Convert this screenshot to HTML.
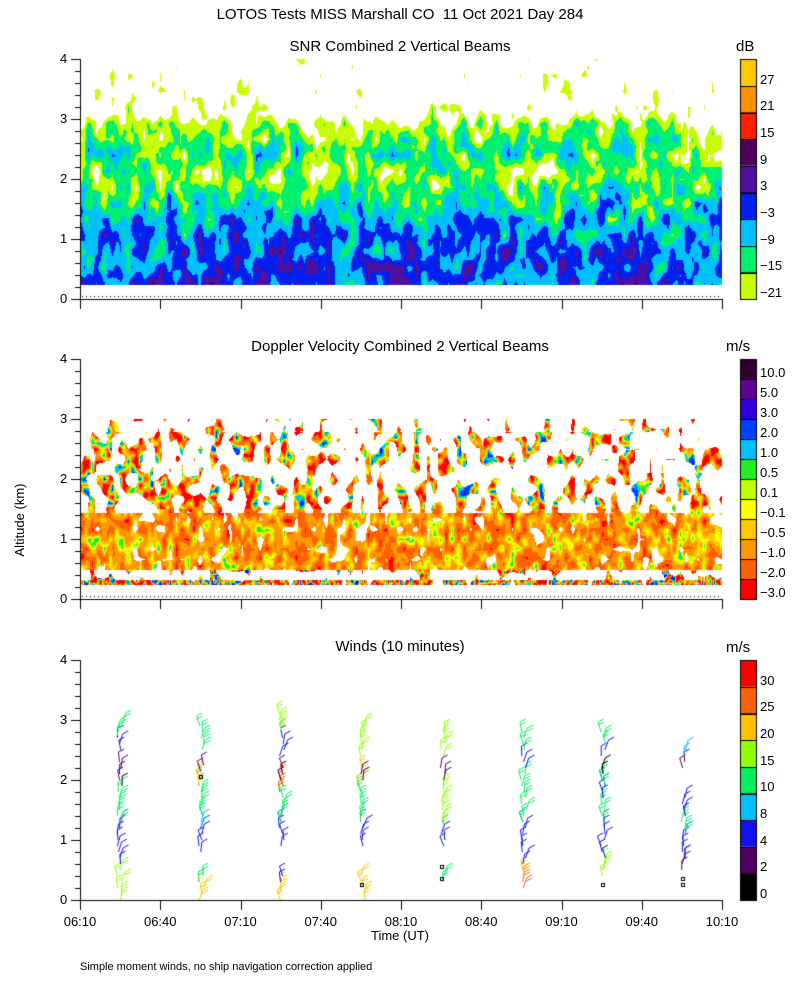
<!DOCTYPE html>
<html><head><meta charset="utf-8">
<style>
body{margin:0;background:#fff;}
#w{position:relative;width:800px;height:1000px;overflow:hidden;font-family:"Liberation Sans",sans-serif;color:#000;}
.t{position:absolute;white-space:nowrap;font-size:14px;line-height:14px;}
.c{transform:translateX(-50%);}
</style></head><body>
<div id="w">
<canvas id="cv" width="800" height="1000" style="position:absolute;left:0;top:0"></canvas>
<div class="t c" style="left:400px;top:8px;font-size:15px">LOTOS Tests MISS Marshall CO&nbsp; 11 Oct 2021 Day 284</div>
<div class="t c" style="left:400px;top:40px;font-size:15px">SNR Combined 2 Vertical Beams</div>
<div class="t c" style="left:400px;top:340px;font-size:15px">Doppler Velocity Combined 2 Vertical Beams</div>
<div class="t c" style="left:400px;top:640px;font-size:15px">Winds (10 minutes)</div>
<div class="t" style="left:736px;top:40px;font-size:15px">dB</div>
<div class="t" style="left:726px;top:340px;font-size:15px">m/s</div>
<div class="t" style="left:726px;top:641px;font-size:15px">m/s</div>
<div class="t" style="top:520px;font-size:13px;transform:translate(-50%,-50%) rotate(-90deg);transform-origin:50% 50%;left:20px">Altitude (km)</div>
<div class="t c" style="left:400px;top:929px;font-size:13px">Time (UT)</div>
<div class="t" style="left:80px;top:960px;font-size:11px">Simple moment winds, no ship navigation correction applied</div>
<div id="lab"></div>
</div>
<script>
var cv=document.getElementById('cv'),ctx=cv.getContext('2d');
var lab=document.getElementById('lab');
function txt(s,x,y,cls,fs){var d=document.createElement('div');d.className='t '+(cls||'');d.style.left=x+'px';d.style.top=(y-7)+'px';if(fs)d.style.fontSize=fs+'px';d.textContent=s;lab.appendChild(d);}
var L=80,R=722,TOPS=[59,359,660],H=240;
function hash(i,j,s){var h=i*374761393+j*668265263+s*982451653;h=(h^(h>>>13))*1274126177;h=h^(h>>>16);return ((h>>>0)%100000)/100000;}
function vn(x,y,s){var i=Math.floor(x),j=Math.floor(y),fx=x-i,fy=y-j;
var a=hash(i,j,s),b=hash(i+1,j,s),c=hash(i,j+1,s),d=hash(i+1,j+1,s);
return (a*(1-fx)+b*fx)*(1-fy)+(c*(1-fx)+d*fx)*fy;}
function hex(h){return [parseInt(h.substr(1,2),16),parseInt(h.substr(3,2),16),parseInt(h.substr(5,2),16)];}
var snrC=['#c8ff00','#00f070','#00c0ff','#0020f0','#5010a0','#500058','#ff2000','#ff9000','#ffc800'];
var snrT=[-21,-15,-9,-3,3,9,15,21,27];
var dopC=['#ff0000','#ff6000','#ff9800','#ffc800','#ffff00','#c0ff00','#20f020','#00c0ff','#0040ff','#3000e0','#600090','#300030'];
var dopL=['-3.0','-2.0','-1.0','-0.5','-0.1','0.1','0.5','1.0','2.0','3.0','5.0','10.0'];
var wC=['#000000','#500060','#1010f0','#00c0ff','#00f060','#90ff00','#ffc000','#ff6000','#ff0000'];
function interp(pts,z){for(var k=0;k<pts.length-1;k++){if(z<=pts[k+1][0]){var t=(z-pts[k][0])/(pts[k+1][0]-pts[k][0]);return pts[k][1]*(1-t)+pts[k+1][1]*t;}}return pts[pts.length-1][1];}
(function(){var T=TOPS[0];var img=ctx.createImageData(R-L,H);
var base=[[0.25,-1],[1.0,-3],[1.5,-8],[2.0,-17],[2.5,-12],[2.9,-18],[3.1,-25],[4,-31]];
var cols=snrC.map(hex);
for(var py=0;py<H;py++){var z=(H-py)/60;for(var px=0;px<R-L;px++){var i=(py*(R-L)+px)*4;var v=-99;
if(z>=0.25){var n=vn(px/8,py/16,1)*2-1,n2=vn(px/4,py/8,2)*2-1;v=interp(base,z)+n*9+n2*5;if(px>600&&z>2.2)v-=4;}
var k=-1;for(var m=0;m<snrT.length;m++)if(v>=snrT[m])k=m;
if(k>=0){img.data[i]=cols[k][0];img.data[i+1]=cols[k][1];img.data[i+2]=cols[k][2];img.data[i+3]=255;}}}
ctx.putImageData(img,L,T);})();
(function(){var T=TOPS[1];var img=ctx.createImageData(R-L,H);var cols=dopC.map(hex);
var th=[-99,-2.5,-1.5,-0.75,-0.3,0,0.3,0.75,1.5,2.5,4,7];
for(var py=0;py<H;py++){var z=(H-py)/60;for(var px=0;px<R-L;px++){var i=(py*(R-L)+px)*4;
if(z<0.25||z>3.0)continue;
var m=vn(px/6,py/10,5);var pr=z<1.45?0.22:(z<2.0?0.55:(z<2.8?0.6:0.75));if(z>0.33&&z<0.5)pr=0.72;if(px>560&&z>2.1)pr=0.75;
if(m<pr)continue;
var v=-1.1+(vn(px/6,py/9,6)*2-1)*1.6+(vn(px/3,py/5,7)*2-1)*0.8;if(z>1.5)v+=(vn(px/4,py/6,8)*2-1)*3;
if(z<0.5)v+=(vn(px/2,py/3,9)*2-1)*4;
var k=0;for(var q=0;q<th.length;q++)if(v>=th[q])k=q;
img.data[i]=cols[k][0];img.data[i+1]=cols[k][1];img.data[i+2]=cols[k][2];img.data[i+3]=255;}}
ctx.putImageData(img,L,T);})();
(function(){var T=TOPS[2],B=T+H;ctx.lineWidth=1;
var X=[119,201,281,362,442,523,603,683];
var S=[
[[0,0.5,5],[0.6,1.3,2],[1.3,1.9,4],[1.9,2.05,1],[2.1,2.35,1],[2.5,2.7,2],[2.75,3.0,4]],
[[0,0.35,6],[0.3,0.45,4],[0.8,1.2,2],[1.2,1.4,3],[1.4,2.0,4],[1.9,2.1,6],[2.15,2.25,1],[2.5,2.95,4]],
[[0,0.35,6],[0.3,0.45,2],[0.9,1.4,2],[1.3,1.9,4],[1.8,2.1,7],[2.0,2.2,1],[2.4,2.8,2],[2.8,3.1,5]],
[[0,0.4,6],[0.9,1.3,2],[1.3,2.0,4],[1.9,2.2,6],[2.0,2.15,1],[2.4,2.9,5]],
[[0.3,0.45,4],[0.9,1.2,2],[1.2,1.9,5],[2.0,2.2,1],[2.4,2.85,5]],
[[0.2,0.4,7],[0.4,0.55,6],[0.6,1.3,2],[1.3,2.1,4],[2.2,2.4,2],[2.5,2.85,4]],
[[0.4,0.7,5],[0.7,1.3,2],[1.3,1.7,4],[1.7,2.0,2],[1.9,2.1,4],[2.1,2.2,0],[2.4,2.55,2],[2.6,2.85,4]],
[[0.5,0.7,1],[0.7,1.1,2],[1.1,1.4,4],[1.4,1.7,2],[2.2,2.3,1],[2.4,2.55,3]]];
for(var c=0;c<8;c++){S[c].forEach(function(s){ctx.strokeStyle=wC[s[2]];
for(var z=s[0];z<=s[1]+0.001;z+=0.1){var x=X[c]+(hash(c,Math.round(z*10),3)-0.5)*5,y=B-z*60;
var lean=(hash(c,Math.round(z*10),4)-0.5)*8;
var tx=x+lean,ty=y-10;ctx.beginPath();ctx.moveTo(x+0.5,y);ctx.lineTo(tx+0.5,ty);
var nf=s[2]>=4?2:1;for(var f=0;f<nf;f++){var fy=ty+f*3;ctx.moveTo(tx+0.5,fy);ctx.lineTo(tx+6,fy-3);}
ctx.stroke();}});}
[[442,0.55],[442,0.35],[362,0.25],[603,0.25],[683,0.35],[683,0.25],[201,2.05]].forEach(function(p){ctx.strokeStyle='#000';ctx.strokeRect(p[0]-1.5,B-p[1]*60-1.5,3,3);});
})();
ctx.strokeStyle='#000';ctx.lineWidth=1;ctx.fillStyle='#000';
TOPS.forEach(function(T,p){var B=T+H;
ctx.beginPath();ctx.moveTo(L+0.5,T);ctx.lineTo(L+0.5,B+10);ctx.moveTo(L,B+0.5);ctx.lineTo(R+1,B+0.5);
for(var k=0;k<=8;k++){var x=Math.round(L+k*80.25)+0.5;ctx.moveTo(x,B);ctx.lineTo(x,B+10);}
for(var z=0;z<=20;z++){var y=Math.round(B-z*12)+0.5;ctx.moveTo(L,y);ctx.lineTo(L-(z%5==0?9:5),y);}
ctx.stroke();
for(var z=0;z<=4;z++)txt(String(z),60,B-z*60,'',13);
if(p<2){for(var x=L+2;x<R;x+=4)ctx.fillRect(x,B-3,1,1);}
});
var tl=['06:10','06:40','07:10','07:40','08:10','08:40','09:10','09:40','10:10'];
tl.forEach(function(s,k){txt(s,L+k*80.25,922,'c',13);});
function cbar(T,cols,labs){var h=H/cols.length;for(var i=0;i<cols.length;i++){var y0=T+H-(i+1)*h;ctx.fillStyle=cols[i];ctx.fillRect(740,y0,16,h);ctx.strokeStyle='#000';ctx.strokeRect(740.5,Math.round(y0)+0.5,16,Math.round(h));txt(labs[i],760,T+H-i*h-6,'',13);}}
cbar(TOPS[0],snrC,['\u221221','\u221215','\u22129','\u22123','3','9','15','21','27']);
cbar(TOPS[1],dopC,dopL.map(function(s){return s.replace('-','\u2212');}));
cbar(TOPS[2],wC,['0','2','4','8','10','15','20','25','30']);
</script>
</body></html>
